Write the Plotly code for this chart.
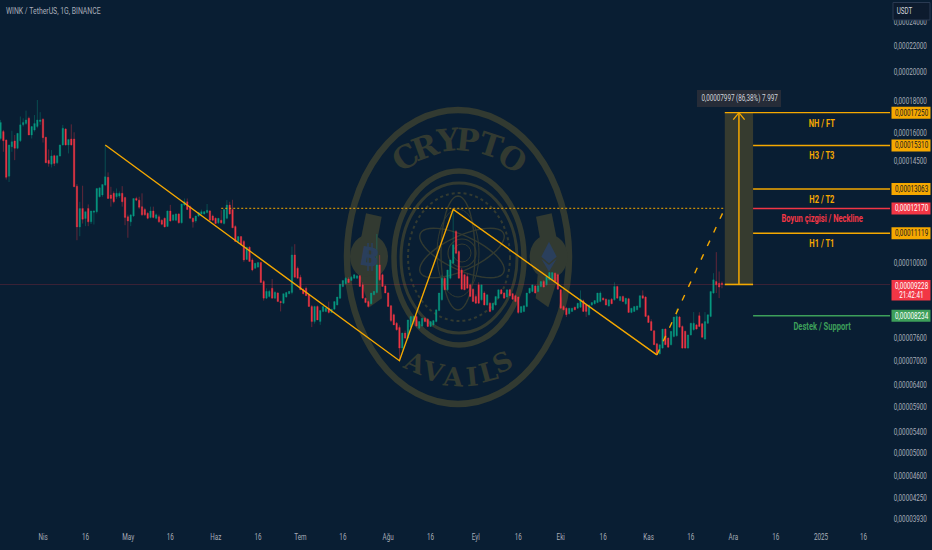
import math
import numpy as np
import pandas as pd
import plotly.graph_objects as go

# Prices in units of 0.00000001 USDT
opens = [15700,16100,15610,13690,15240,15560,15150,15570,16500,16590,
16900,15900,16190,16400,16700,16840,15770,14510,14300,14750,
14370,14730,15340,16250,15340,15670,15670,13200,11380,12170,
11730,12170,11590,12000,12030,12700,12780,13250,13630,12780,
12860,12700,12730,12860,12670,11810,11590,11840,12620,12545,
12250,12120,11960,11780,12060,11740,11810,11660,11740,11400,
12060,11660,11660,11930,11550,12320,12470,12250,11740,11630,
11840,11930,11930,11990,12060,11840,11740,11550,11660,11520,
11740,12320,12120,11395,10790,10985,10790,10110,10570,10090,
9790,9830,10000,9330,8780,8830,9100,8780,8945,8670,
8620,8815,8925,8965,10275,9790,9475,9050,9100,8890,
8515,8060,8515,8060,8365,8365,8465,8335,8435,8565,
8780,9160,9250,9410,9365,9440,9440,9525,9215,8780,
8670,8600,8890,8965,9910,9560,9180,8945,8540,8265,
8015,7890,7320,7730,7590,7900,8060,8215,7870,7935,
8160,8130,7920,7965,8060,8395,8725,9440,9050,9440,
9970,11190,10400,9730,9560,9500,9215,9070,8835,9215,
8725,8945,8565,8620,8415,8565,8780,9050,8945,8815,
9050,8925,8860,8815,8335,8365,8515,8945,8995,9180,
8995,9160,9330,9215,9385,9385,9615,9560,9050,8515,
8465,8295,8365,8495,8465,8495,8695,8565,8265,8565,
8600,8640,8670,8780,8745,8535,8745,8725,9160,8705,
8835,8600,8760,8335,8365,8415,8495,8860,8815,8235,
8060,7795,7435,7170,7320,7845,7590,7410,7635,7655,
8195,7920,7780,7320,7680,7825,7965,8235,7995,7565,
8015,8215,8945,9330,9270,9270]

highs = [16800,16200,15650,15350,16150,15900,16000,17010,16900,17380,
17000,16400,17100,18065,17280,16900,15800,15090,15050,14800,
14750,15340,16500,16300,15650,16530,16060,13300,12470,13220,
12030,12350,12060,12080,13100,13120,13280,15330,13880,13170,
12950,13090,12950,13200,12700,11900,11890,12620,12700,12700,
12860,12200,12000,12250,12250,11950,11900,11700,11780,12080,
12330,11900,11950,11960,12370,12620,12620,12300,11780,11850,
11990,12120,12060,12370,12100,11900,11780,11760,12090,12120,
12545,12470,12560,11450,11000,11000,10850,10570,10600,10150,
9980,10000,10020,9380,9100,9050,9410,9000,8970,8700,
8925,8980,9010,10595,10685,9850,9560,9100,9160,8900,
8560,8540,8550,8395,8515,8470,8670,8440,8670,8815,
9240,9370,9480,9470,9520,9580,9530,9550,9300,8800,
8700,8945,9000,11090,10270,9600,9220,8980,8560,8300,
8050,7950,7740,7800,8110,8215,8230,8240,8065,8160,
8190,8160,8065,8095,8415,8945,9560,9480,9730,10090,
12075,11250,10450,9800,9600,9600,9260,9100,8900,9300,
9215,9000,8890,8650,8620,8835,9050,9070,8970,9050,
9080,8950,8890,8830,8515,8540,8945,9105,9215,9210,
9210,9340,9380,9500,9640,9640,9640,9600,9080,8550,
8490,8465,8470,8510,8620,9030,8730,8600,8565,8640,
8705,8945,9000,8800,8770,8725,8780,9300,9190,8835,
8860,8780,8790,8465,8515,8535,8860,9030,8840,8260,
8130,7810,7450,7410,7845,7860,7610,7780,8195,8445,
8230,7950,7800,7680,8015,8345,7990,8340,8020,8345,
8265,8995,9615,10380,9675,9330]

lows = [15600,14960,13520,13400,14960,14510,15100,15500,16400,16500,
15900,15700,16100,16300,16500,15470,14370,14170,14130,14200,
14300,14700,15300,15300,14870,15300,13170,10840,11000,11520,
11410,11410,11500,11480,11950,12670,12700,13200,12600,12250,
12400,12600,12650,12250,11450,10940,11410,11800,12500,12150,
11850,11850,11700,11740,11740,11700,11550,11450,11360,11380,
11600,11630,11620,11520,11520,12280,12100,11740,11350,11550,
11800,11900,11900,11950,11660,11630,11500,11500,11520,11480,
11700,11900,11340,10790,10700,10660,10020,10090,10030,9680,
9760,9800,9290,8700,8750,8800,8770,8760,8670,8365,
8600,8790,8900,8900,9460,9430,9050,8900,8850,8500,
7900,8000,8110,7965,8340,8340,8300,8320,8420,8550,
8750,9130,9230,9270,9340,9420,9420,9160,8780,8620,
8480,8580,8870,8930,9350,9160,8945,8515,8050,7960,
7800,7000,7250,7560,7560,7880,8040,7920,7850,7910,
8040,7900,7900,7940,8040,8370,8700,9050,9020,9400,
9950,10300,9430,9060,9040,9100,8830,8660,8600,8600,
8700,8550,8540,8340,8390,8540,8760,8910,8770,8800,
8840,8730,8650,8290,8320,8340,8490,8920,8970,8930,
8970,9130,9130,9190,9360,9360,9310,9060,8450,8400,
8195,8270,8350,8400,8440,8470,8350,8200,8240,8540,
8580,8620,8650,8700,8550,8510,8590,8700,8770,8680,
8660,8570,8330,8310,8350,8395,8470,8760,8200,8020,
7790,7400,7160,7150,7300,7410,7330,7390,7610,7630,
7890,7300,7300,7300,7660,7800,7830,7900,7600,7540,
7990,8190,8920,8945,8780,9100]

closes = [16650,15570,13630,15330,15520,15150,16000,16500,16650,16800,
15900,16400,16590,16800,16800,15750,14370,14340,14730,14340,
14750,15340,16300,15340,15650,15340,13170,11380,12170,11700,
12030,11590,12060,12060,13090,13120,13280,13660,12620,12620,
12470,12860,12860,12470,11780,11630,11890,12620,12545,12220,
11890,11890,11740,12060,11780,11890,11590,11490,11380,12060,
11630,11890,11930,11550,12370,12470,12120,11740,11590,11840,
11990,12030,12030,12090,11660,11660,11520,11740,11550,12120,
12320,11930,11340,10790,10985,10660,10090,10570,10030,9730,
9970,10000,9290,8780,9000,9000,8780,8970,8670,8640,
8925,8965,9000,10275,9475,9440,9050,8925,8860,8515,
8060,8515,8110,8395,8515,8465,8335,8435,8670,8815,
9240,9365,9440,9295,9475,9560,9525,9160,8780,8640,
8515,8945,9000,9910,9385,9160,8945,8515,8090,7965,
7825,7320,7730,7590,8110,8215,8215,7935,8065,8160,
8060,7920,8065,8090,8415,8945,9440,9050,9730,10090,
10660,10340,9440,9070,9050,9100,8835,8670,8620,8620,
9215,8565,8890,8365,8620,8835,9050,8925,8780,9050,
8860,8745,8670,8335,8515,8540,8945,9105,9215,8945,
9180,9330,9140,9500,9640,9640,9330,9070,8465,8415,
8265,8465,8465,8415,8620,8745,8365,8365,8565,8640,
8705,8945,8945,8725,8565,8725,8600,9160,8780,8835,
8670,8780,8335,8465,8515,8535,8860,8780,8215,8035,
7805,7410,7170,7410,7845,7410,7345,7780,8195,8215,
7900,7320,7320,7680,8015,8015,7845,7920,7615,8060,
8265,8995,9385,9215,9140,9228]

first_day = "2024-03-17"

x_tick_dates = ["2024-04-01","2024-04-16","2024-05-01","2024-05-16","2024-06-01","2024-06-16",
                "2024-07-01","2024-07-16","2024-08-01","2024-08-16","2024-09-01","2024-09-16",
                "2024-10-01","2024-10-16","2024-11-01","2024-11-16","2024-12-01","2024-12-16",
                "2025-01-01","2025-01-16"]
x_tick_labels = ["Nis","16","May","16","Haz","16","Tem","16","Ağu","16","Eyl","16",
                 "Eki","16","Kas","16","Ara","16","2025","16"]
y_tick_values = [24000,22000,20000,18000,16000,14500,10000,7600,7000,6400,5900,5400,5000,4600,4250,3930]

# Drawn pattern: (date, price)
wedge_dates = ["2024-04-23","2024-08-05","2024-08-24","2024-11-04"]
wedge_prices = [15337,6990,12130,7140]
projection_dates = ["2024-11-04","2024-11-28"]
projection_prices = [7140,12170]
neckline_dates = ["2024-06-03","2024-11-28"]
neckline_price = 12170
current_price = 9228
target_price = 17250
box_start, box_end = "2024-11-28", "2024-12-08"
arrow_date = "2024-12-03"
axis_start, axis_end = "2024-03-16 19:12", "2025-01-25 09:36"
price_top, price_bottom = 25999, 3774

level_names = ["NH / FT","H3 / T3","H2 / T2","Boyun çizgisi / Neckline","H1 / T1","Destek / Support"]
level_prices = [17250,15310,13063,12170,11119,8234]
level_colors = ["#f5a800","#f5a800","#f5a800","#f23645","#f5a800","#3d9f5a"]
tag_text_colors = ["#131722","#131722","#131722","#ffffff","#131722","#ffffff"]

BG = "#091e33"
MARK = "#323a31"
ICON = "#2a3f5c"
ORANGE = "#f5a800"
FONT = "Roboto"
SCALE = 1e-8
PW, PH = 890, 530
LO, HI = math.log10(price_bottom), math.log10(price_top)


def fmt(v):
    return f"{v*SCALE:.8f}".replace(".", ",")


def px(x):
    return x / PW


def py(y):
    return 1 - y / PH


def price_frac(p):
    return (math.log10(p) - LO) / (HI - LO)


def scale_list(values):
    return [v * SCALE for v in values]


dates = pd.date_range(first_day, periods=len(closes), freq="D")
fig = go.Figure()

fig.add_trace(go.Scatter(x=[axis_start, axis_end], y=scale_list([current_price]*2), mode="lines",
                         line=dict(color="rgba(242,54,69,0.22)", width=1), hoverinfo="skip"))

fig.add_trace(go.Scatter(x=[box_start, box_end, box_end, box_start, box_start],
                         y=scale_list([target_price, target_price, current_price, current_price, target_price]),
                         mode="none", fill="toself", fillcolor="#363b2f", hoverinfo="skip"))

fig.add_trace(go.Candlestick(x=dates, open=scale_list(opens), high=scale_list(highs),
                             low=scale_list(lows), close=scale_list(closes), whiskerwidth=0,
                             increasing=dict(fillcolor="#089981", line=dict(color="rgba(8,153,129,0.55)", width=0.7)),
                             decreasing=dict(fillcolor="#f23645", line=dict(color="rgba(242,54,69,0.55)", width=0.7))))

fig.add_trace(go.Scatter(x=wedge_dates, y=scale_list(wedge_prices), mode="lines",
                         line=dict(color=ORANGE, width=1.4), hoverinfo="skip"))
fig.add_trace(go.Scatter(x=projection_dates, y=scale_list(projection_prices), mode="lines",
                         line=dict(color=ORANGE, width=1.4, dash="6px,9px"), hoverinfo="skip"))
fig.add_trace(go.Scatter(x=neckline_dates, y=scale_list([neckline_price]*2), mode="lines",
                         line=dict(color=ORANGE, width=1.3, dash="2px,2px"), hoverinfo="skip", opacity=0.8))

for name, price, color in zip(level_names, level_prices, level_colors):
    start = box_start if name == "NH / FT" else box_end
    fig.add_trace(go.Scatter(x=[start, axis_end], y=scale_list([price]*2), mode="lines",
                             line=dict(color=color, width=1.4), hoverinfo="skip"))

fig.add_trace(go.Scatter(x=[box_start, box_end], y=scale_list([current_price]*2), mode="lines",
                         line=dict(color=ORANGE, width=1.6), hoverinfo="skip"))
fig.add_trace(go.Scatter(x=[arrow_date, arrow_date], y=scale_list([current_price, target_price]), mode="lines",
                         line=dict(color=ORANGE, width=1.5), hoverinfo="skip"))
fig.add_trace(go.Scatter(x=["2024-12-01", arrow_date, "2024-12-05"], y=scale_list([16816, target_price, 16816]),
                         mode="lines", line=dict(color=ORANGE, width=1.3), hoverinfo="skip"))

# ---- watermark ----
shapes = []


def ellipse(cx, cy, rx, ry, width, color=MARK, dash=None, fill=None):
    shapes.append(dict(type="circle", xref="paper", yref="paper", layer="below",
                       x0=px(cx-rx), x1=px(cx+rx), y0=py(cy+ry), y1=py(cy-ry),
                       line=dict(color=color, width=width, dash=dash), fillcolor=fill))


def polygon(points, color=MARK):
    d = "M " + " L ".join(f"{px(x):.5f},{py(y):.5f}" for x, y in points) + " Z"
    shapes.append(dict(type="path", path=d, xref="paper", yref="paper", layer="below",
                       fillcolor=color, line=dict(width=0)))


def box(x0, y0, x1, y1, fill, border=None):
    shapes.append(dict(type="rect", xref="paper", yref="paper", layer="above",
                       x0=px(x0), x1=px(x1), y0=py(y1), y1=py(y0), fillcolor=fill,
                       line=dict(width=1 if border else 0, color=border)))


def orbit(cx, cy, rx, ry, deg, width=1.4):
    a = math.radians(deg)
    pts = []
    for k in range(49):
        t = 2 * math.pi * k / 48
        ex, ey = rx * math.cos(t), ry * math.sin(t)
        pts.append((cx + ex*math.cos(a) - ey*math.sin(a), cy + ex*math.sin(a) + ey*math.cos(a)))
    d = "M " + " L ".join(f"{px(x):.5f},{py(y):.5f}" for x, y in pts)
    shapes.append(dict(type="path", path=d, xref="paper", yref="paper", layer="below",
                       line=dict(color=MARK, width=width)))


def z6(x, y):
    return 340 + x/3, 100 + y/3


ellipse(458, 257, 111, 147, 6.5)
ellipse(459, 258, 65, 87, 5.5)
ellipse(459, 258, 58, 75, 3)
ellipse(459, 257, 51, 64, 2, dash="dot")
for deg in (25, -25):
    orbit(462, 253, 46, 17, deg)
orbit(458, 253, 17, 57, 0)
orbit(458, 253, 21, 44, 0, 1)
ellipse(462, 253, 14, 14, 1.2)
ellipse(462, 253, 9, 9, 1)

# side medallions (BTC left, ETH right)
for mirror in (False, True):
    def m(x, y):
        return z6(713 - x if mirror else x, y)
    c = m(87, 470)
    ellipse(c[0], c[1], 19, 22, 0, fill=MARK)
    polygon([m(78, 340), m(125, 350), m(112, 420), m(62, 420)])
    polygon([m(58, 530), m(120, 525), m(126, 595), m(88, 622)])

polygon([z6(627, 425), z6(650, 470), z6(627, 490), z6(604, 470)], ICON)
polygon([z6(650, 476), z6(627, 515), z6(604, 476), z6(627, 495)], ICON)
for bx in (-2, 2):
    shapes.append(dict(type="line", xref="paper", yref="paper", layer="below",
                       x0=px(370+bx), x1=px(370+bx), y0=py(243), y1=py(271),
                       line=dict(color=ICON, width=1.6)))

ann = []


def text(x, y, s, size, color, **kw):
    opts = dict(xanchor="center", yanchor="middle")
    family = kw.pop("family", FONT)
    weight = kw.pop("weight", "normal")
    opts.update(kw)
    ann.append(dict(x=px(x), y=py(y), xref="paper", yref="paper", text=s, showarrow=False,
                    font=dict(family=family, size=size, color=color, weight=weight), **opts))


crypto = [("C", 405, 157, -32), ("R", 425, 147, -20), ("Y", 448, 140, -6),
          ("P", 467, 140, 6), ("T", 490, 145, 18), ("O", 512, 158, 32)]
avails = [("A", 415, 363, 24), ("V", 433, 372, 14), ("A", 453, 377, 4),
          ("I", 472, 377, -6), ("L", 488, 372, -15), ("S", 503, 362, -26)]
for ch, x, y, r in crypto:
    text(x, y, ch, 31, MARK, textangle=r, family="DejaVu Serif", weight="bold")
for ch, x, y, r in avails:
    text(x, y, ch, 26, MARK, textangle=r, family="DejaVu Serif", weight="bold")
text(370, 257, "B", 26, ICON, textangle=10, family="DejaVu Sans", weight="bold")

# level labels in the chart
label_y = [123, 156, 199, 218.5, 243, 326]
for name, ly, color in zip(level_names, label_y, level_colors):
    text(822, ly, name, 10.8, color, weight="bold")

# price tags on the axis
for price, color, tc in zip(level_prices, level_colors, tag_text_colors):
    yc = (1 - price_frac(price)) * PH
    box(891.5, yc - 6, 930.5, yc + 6, color)
    text(911, yc, fmt(price), 9, tc)
box(891.5, 280, 930.5, 300.5, "#f23645")
text(911, 285.5, fmt(current_price), 9, "#ffffff")
text(911, 295, "21:42:41", 9, "#ffffff")

box(697, 90, 781, 107, "#262c38")
text(739, 98.5, "0,00007997 (86,38%) 7.997", 9, "#d1d4dc")
text(4, 11, "WINK / TetherUS, 1G, BINANCE", 9.8, "#a8adb8", xanchor="left")
box(893, 2.5, 930, 20, "#0d1b2e", "#2a3a52")
text(905, 11, "USDT", 9, "#d1d4dc")

fig.update_layout(
    width=932, height=550, autosize=False, showlegend=False,
    paper_bgcolor=BG, plot_bgcolor=BG,
    margin=dict(l=0, r=42, t=0, b=20, autoexpand=False),
    shapes=shapes, annotations=ann, hovermode=False,
    xaxis=dict(type="date", range=[axis_start, axis_end], rangeslider=dict(visible=False),
               tickmode="array", tickvals=x_tick_dates, ticktext=x_tick_labels,
               showgrid=False, zeroline=False, ticks="", showline=False,
               tickfont=dict(family=FONT, size=9, color="#a8adb8"), tickangle=0),
    yaxis=dict(type="log", side="right",
               range=[math.log10(price_bottom*SCALE), math.log10(price_top*SCALE)],
               tickmode="array", tickvals=scale_list(y_tick_values), ticktext=[fmt(v) for v in y_tick_values],
               showgrid=False, zeroline=False, ticks="outside", ticklen=1, tickcolor=BG, showline=False,
               tickfont=dict(family=FONT, size=9, color="#a8adb8")),
)

# The reference uses a narrow type: remove the page margin and condense small texts in place.
post = """
document.documentElement.style.background = '%s';
document.body.style.margin = '0';
document.body.style.background = '%s';
function narrowTexts() {
  document.querySelectorAll('.plotly-graph-div text').forEach(function (t) {
    if (parseFloat(getComputedStyle(t).fontSize) < 15 && !t.hasAttribute('textLength') && t.textContent) {
      var r0 = t.getBoundingClientRect();
      var keepLeft = getComputedStyle(t).textAnchor === 'start' || t.textContent.indexOf('WINK') === 0;
      t.textContent = t.textContent;
      var w = t.getComputedTextLength() * 0.7;
      var target = keepLeft ? r0.left : r0.left + (r0.width - w) / 2;
      t.style.textAnchor = 'start';
      t.setAttribute('text-anchor', 'start');
      t.setAttribute('textLength', w.toFixed(1));
      t.setAttribute('lengthAdjust', 'spacingAndGlyphs');
      var x = parseFloat(t.getAttribute('x')) || 0;
      t.setAttribute('x', x);
      var r1 = t.getBoundingClientRect();
      t.setAttribute('x', (x + target - r1.left).toFixed(2));
    }
  });
}
setTimeout(narrowTexts, 50);
""" % (BG, BG)

fig.write_html("out.html", config=dict(displayModeBar=False), post_script=post)
